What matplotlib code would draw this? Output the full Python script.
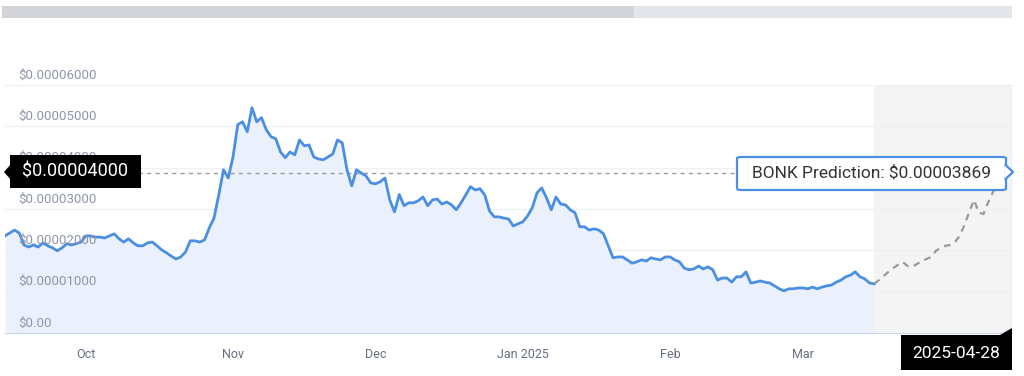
import numpy as np
import pandas as pd
import matplotlib
matplotlib.use("Agg")
import matplotlib.pyplot as plt
from matplotlib.patches import Rectangle, FancyBboxPatch, Polygon
from matplotlib.lines import Line2D

plt.rcParams['font.family'] = ['Roboto', 'DejaVu Sans']

# daily BONK close, 2024-09-14 .. 2025-03-16 (units of 1e-5 USD)
history = [
    2.35, 2.42, 2.49, 2.42, 2.13, 2.08, 2.13, 2.08, 2.18, 2.11,
    2.06, 1.99, 2.06, 2.16, 2.13, 2.16, 2.20, 2.35, 2.35, 2.32,
    2.32, 2.30, 2.35, 2.40, 2.28, 2.20, 2.28, 2.18, 2.11, 2.11,
    2.18, 2.20, 2.11, 2.01, 1.94, 1.86, 1.79, 1.84, 1.96, 2.23,
    2.23, 2.20, 2.25, 2.54, 2.78, 3.34, 3.95, 3.75, 4.26, 5.04,
    5.11, 4.87, 5.45, 5.11, 5.21, 4.92, 4.75, 4.70, 4.38, 4.24,
    4.38, 4.31, 4.67, 4.53, 4.55, 4.26, 4.21, 4.19, 4.26, 4.33,
    4.67, 4.60, 3.95, 3.56, 3.95, 3.87, 3.80, 3.63, 3.61, 3.66,
    3.75, 3.22, 2.93, 3.35, 3.08, 3.15, 3.15, 3.20, 3.29, 3.08,
    3.22, 3.24, 3.12, 3.17, 3.10, 2.98, 3.15, 3.34, 3.54, 3.46,
    3.49, 3.34, 2.95, 2.81, 2.81, 2.78, 2.76, 2.59, 2.64, 2.69,
    2.83, 3.03, 3.39, 3.51, 3.27, 2.98, 3.29, 3.12, 3.10, 2.98,
    2.91, 2.57, 2.57, 2.49, 2.52, 2.49, 2.40, 2.11, 1.82, 1.84,
    1.84, 1.77, 1.69, 1.72, 1.77, 1.74, 1.82, 1.79, 1.77, 1.84,
    1.84, 1.77, 1.72, 1.57, 1.53, 1.55, 1.62, 1.55, 1.60, 1.53,
    1.28, 1.33, 1.33, 1.23, 1.36, 1.36, 1.48, 1.21, 1.23, 1.26,
    1.23, 1.21, 1.14, 1.07, 1.02, 1.07, 1.07, 1.09, 1.09, 1.07,
    1.11, 1.07, 1.11, 1.14, 1.16, 1.23, 1.28, 1.36, 1.40, 1.48,
    1.36, 1.31, 1.21, 1.19,
]
# forecast path up to 2025-04-28 (units of 1e-5 USD)
prediction = [
    1.19, 1.28, 1.38, 1.48, 1.57, 1.65, 1.72, 1.62, 1.60, 1.67,
    1.74, 1.79, 1.84, 1.99, 2.06, 2.11, 2.13, 2.20, 2.35, 2.62,
    2.93, 3.22, 2.91, 2.88, 3.17, 3.41, 3.58, 3.70, 3.80, 3.869,
]
start_date = "2024-09-14"
month_ticks = ["2024-10-01", "2024-11-01", "2024-12-01", "2025-01-01",
               "2025-02-01", "2025-03-01"]
month_labels = ["Oct", "Nov", "Dec", "Jan 2025", "Feb", "Mar"]
y_values = [0, 1e-5, 2e-5, 3e-5, 4e-5, 5e-5, 6e-5]
y_labels = ["$0.00", "$0.00001000", "$0.00002000", "$0.00003000",
            "$0.00004000", "$0.00005000", "$0.00006000"]
target_price = 3.869e-5
target_text = "BONK Prediction: $0.00003869"
marker_text = "$0.00004000"
end_date_text = "2025-04-28"

hist = np.array(history) * 1e-5
pred = np.array(prediction) * 1e-5
x_hist = np.arange(len(hist))
x_pred = np.arange(len(pred)) + len(hist) - 1
x_end = x_pred[-1]
tick_pos = [(pd.Timestamp(d) - pd.Timestamp(start_date)).days for d in month_ticks]

W, H = 1024, 376
fig = plt.figure(figsize=(W / 100, H / 100), dpi=100)
ax = fig.add_axes([5 / W, 43 / H, 1007 / W, 248 / H])

def fp(x, y):
    # pixel (top-left origin) -> figure fraction
    return (x / W, 1 - y / H)

# forecast background
ax.axvspan(x_pred[0], x_end, color="#f4f4f4", zorder=0, lw=0)
for v in y_values[1:]:
    ax.axhline(v, color="#eef0f4", lw=1, zorder=1)

ax.fill_between(x_hist, hist, 0, color="#eaf1fc", zorder=2, lw=0)
ax.plot(x_hist, hist, color="#4a8fe2", lw=2, zorder=4, solid_joinstyle="round")
ax.plot(x_pred, pred, color="#9a9a9a", lw=1.6, ls=(0, (3, 2.5)), zorder=4)

ax.axhline(target_price, color="#9a9a9a", lw=1, ls=(0, (3, 3)), zorder=3)
ax.axvline(x_end, color="#a8a8a8", lw=0.9, ls=(0, (3, 3)), zorder=3)

ax.set_xlim(0, x_end)
ax.set_ylim(0, 6e-5)
for s in ["top", "left", "right"]:
    ax.spines[s].set_visible(False)
ax.spines["bottom"].set_color("#ccd6eb")
ax.set_yticks([])
ax.set_xticks(tick_pos)
ax.set_xticklabels(month_labels)
ax.tick_params(axis="x", length=0, pad=11, labelsize=9, labelcolor="#666f80")
ax.set_facecolor("white")

for v, lab in zip(y_values, y_labels):
    ax.annotate(lab, xy=(0, v), xycoords=("axes fraction", "data"),
                xytext=(13, 10), textcoords="offset pixels",
                ha="left", va="center", fontsize=9.5, color="#8e97a8", zorder=5)

# top navigator bar
fig.patches.append(Rectangle(fp(2, 18), 632 / W, 12 / H, transform=fig.transFigure,
                             facecolor="#d2d4d9", edgecolor="none"))
fig.patches.append(Rectangle(fp(634, 18), 378 / W, 12 / H, transform=fig.transFigure,
                             facecolor="#e4e5ea", edgecolor="none"))

# black y-marker label
fig.patches.append(Rectangle(fp(10, 188), 131 / W, 33 / H, transform=fig.transFigure,
                             facecolor="black", edgecolor="none", zorder=6))
fig.patches.append(Polygon([fp(11, 164), fp(4, 172), fp(11, 180)], closed=True,
                           transform=fig.transFigure, facecolor="black",
                           edgecolor="none", zorder=6))
fig.text(*fp(75, 172), marker_text, color="white", fontsize=13,
         ha="center", va="center", zorder=7)

# prediction tooltip
fig.patches.append(FancyBboxPatch(fp(737, 190), 269 / W, 33 / H,
                                  boxstyle="round,pad=0,rounding_size=0.004",
                                  transform=fig.transFigure, facecolor="white",
                                  edgecolor="#4a8fe2", lw=1.6, zorder=6))
fig.patches.append(Polygon([fp(1005, 165), fp(1012, 172), fp(1005, 179)], closed=True,
                           transform=fig.transFigure, facecolor="white",
                           edgecolor="none", zorder=7))
fig.lines.append(Line2D([1005.5 / W, 1013 / W, 1005.5 / W],
                        [1 - 165 / H, 1 - 172 / H, 1 - 179 / H],
                        transform=fig.transFigure, color="#4a8fe2", lw=1.6, zorder=8))
fig.text(*fp(871, 173), target_text, color="#333333", fontsize=12.5,
         ha="center", va="center", zorder=9)

# end date label
fig.patches.append(Rectangle(fp(901, 370), 111 / W, 35 / H, transform=fig.transFigure,
                             facecolor="black", edgecolor="none", zorder=6))
fig.patches.append(Polygon([fp(1000, 335), fp(1012, 328), fp(1012, 335)], closed=True,
                           transform=fig.transFigure, facecolor="black",
                           edgecolor="none", zorder=6))
fig.text(*fp(956, 353), end_date_text, color="white", fontsize=12.5,
         ha="center", va="center", zorder=7)

fig.savefig("out.png", dpi=100, facecolor="white")
